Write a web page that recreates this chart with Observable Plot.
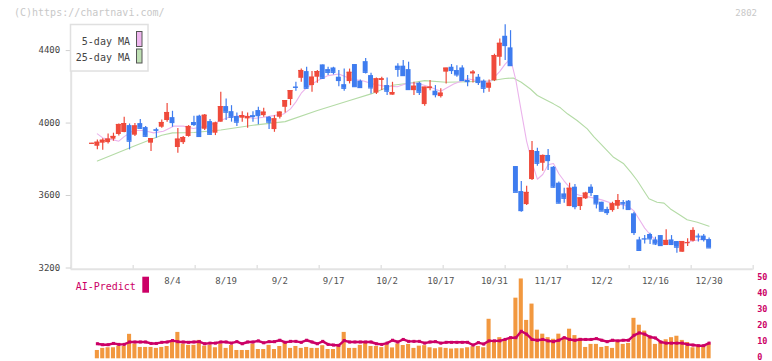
<!DOCTYPE html>
<html><head><meta charset="utf-8">
<script src="https://cdn.jsdelivr.net/npm/d3@7"></script>
<script src="https://cdn.jsdelivr.net/npm/@observablehq/plot@0.6"></script>
<style>
body{margin:0;background:#fff;}
#wrap{position:relative;width:772px;height:361px;overflow:hidden;font-family:"DejaVu Sans Mono",monospace;}
#wrap > svg{position:absolute;left:0;}
</style></head><body><div id="wrap"></div>
<script>
// ---- data ----
const open  = [3887,3872,3889,3892,3911,3937,3948,3986,3933,3997,3975,3889,3964,3977,4014,4030,3865,3892,3926,4003,4038,3966,4008,3944,4005,4091,4063,4036,4027,4023,4041,4069,4041,4032,3964,4032,4087,4130,4199,4247,4284,4207,4253,4321,4295,4304,4253,4212,4229,4323,4231,4339,4262,4165,4235,4207,4154,4314,4314,4295,4179,4220,4102,4190,4176,4146,4281,4308,4290,4304,4235,4271,4253,4231,4192,4234,4363,4479,4415,3760,3622,3550,3688,3843,3778,3821,3756,3668,3609,3539,3646,3539,3582,3646,3600,3563,3523,3517,3541,3561,3569,3499,3355,3362,3385,3355,3379,3324,3355,3346,3287,3338,3348,3376,3376,3357];
const high  = [3889,3907,3913,3940,3944,3995,4032,3995,3997,4019,3981,3914,3972,4017,4108,4065,3970,3926,3986,4038,4043,4047,4019,4005,4170,4133,4096,4056,4063,4056,4063,4087,4082,4036,4041,4063,4124,4179,4225,4299,4308,4284,4290,4321,4308,4308,4290,4299,4298,4323,4238,4356,4275,4249,4253,4249,4225,4327,4345,4336,4225,4225,4198,4235,4207,4189,4303,4323,4317,4317,4262,4290,4268,4238,4238,4380,4464,4543,4510,3760,3677,3651,3898,3861,3824,3854,3760,3674,3640,3668,3661,3587,3618,3659,3600,3563,3536,3563,3605,3572,3572,3508,3370,3379,3392,3370,3379,3411,3379,3346,3346,3361,3422,3388,3385,3366];
const low   = [3885,3852,3850,3885,3900,3929,3946,3852,3926,3966,3922,3843,3916,3972,4005,3977,3834,3881,3922,3981,3926,3959,3933,3931,4005,4014,4005,3981,4005,3971,4005,3990,4032,3964,3949,4023,4056,4096,4176,4225,4188,4170,4220,4240,4262,4266,4201,4176,4216,4201,4194,4271,4161,4157,4180,4152,4154,4253,4262,4185,4152,4152,4093,4179,4139,4139,4216,4268,4253,4231,4201,4221,4207,4165,4170,4229,4313,4345,4317,3618,3508,3545,3683,3762,3734,3738,3642,3554,3558,3539,3521,3517,3578,3594,3526,3514,3490,3508,3523,3521,3521,3379,3297,3333,3330,3324,3319,3324,3324,3282,3287,3319,3343,3343,3343,3311];
const close = [3888,3894,3905,3911,3926,3992,3997,3900,3984,3971,3927,3914,3960,4003,4058,4003,3911,3920,3981,3992,3926,4043,3938,4000,4091,4060,4032,4005,4041,4036,4036,4041,4060,4005,4023,4060,4124,4179,4197,4290,4192,4253,4284,4247,4280,4280,4235,4192,4280,4201,4196,4280,4194,4244,4244,4176,4168,4297,4262,4185,4203,4170,4198,4198,4157,4165,4303,4290,4266,4235,4229,4281,4224,4192,4220,4372,4440,4428,4317,3618,3517,3617,3848,3778,3821,3793,3646,3558,3585,3640,3539,3587,3613,3617,3554,3514,3506,3554,3572,3554,3523,3396,3297,3360,3361,3333,3324,3352,3330,3315,3346,3340,3407,3372,3357,3311];

const ma5Idx = [1,2,4,5,6,7.7,9.6,11.5,13.3,15.2,17,18.9,21.5,22.1,23.9,25.8,28.2,30.1,32,33.8,35.7,37,38,39,40,42,44,46,48.2,50.6,52.5,54.3,56.9,58.8,60.7,63.1,65,67.4,70,72.4,74.3,76,77,78,79,80,81,82,83,84,85,86,87,88,89,90,91,93,95,97,99,100,101,102,103,104,105,106,108,110,112,114,115];
const ma5Val = [3940,3918,3907,3900,3925,3959,3959,3946,3955,3983,3983,3970,3983,3986,4014,4035,4041,4025,4032,4041,4050,4078,4117,4165,4196,4234,4262,4271,4244,4232,4215,4205,4200,4220,4220,4198,4176,4216,4245,4230,4232,4285,4325,4355,4235,4064,3899,3783,3690,3716,3770,3777,3720,3680,3645,3610,3600,3590,3576,3556,3548,3538,3515,3468,3420,3385,3352,3338,3340,3335,3350,3360,3352];

const ma25Idx = [1,4,8,13,15,19,24,30,36,42,48,52,56,59,62,66,70,74,77,78.5,80,81.7,83,84.8,86,87.3,88.6,90.4,92.3,93.5,94.8,97.2,99.1,100.4,101.6,102.8,103.8,105.3,106.6,107.8,109.7,110.9,112.8,115];
const ma25Val = [3791,3826,3875,3933,3946,3948,3962,3988,4008,4069,4124,4161,4209,4220,4234,4225,4228,4232,4246,4249,4225,4188,4152,4124,4106,4084,4051,4014,3968,3925,3885,3811,3775,3729,3683,3628,3582,3563,3558,3526,3490,3466,3453,3431];

// lower panel, candle indices 1..115
const subBars = [5.2,6.5,6.9,6.9,7.9,7.7,15.3,9.2,7.1,7.1,7.1,6.5,7.1,7.7,10.3,16.5,9.2,8.4,8.4,11.5,7.9,8.4,6.9,9.2,6.5,8.4,5.2,5.2,5.2,9.2,5.8,5.8,8.4,5.8,7.7,10.6,6.5,7.7,6.5,7.1,6.5,6.5,8.2,5.8,5.8,7.7,16.5,6.5,6.5,8.4,9.8,7.7,7.7,7,8.7,6.8,9.3,8.3,9,6.5,7.9,8.2,6.9,6.3,6.9,6.5,6.1,6.3,6.3,6.9,7.5,7.7,6.9,24.7,10.4,13.2,10.9,12.4,37.9,49.9,24,34.2,17.9,15.4,13.2,12.2,15.4,12.4,18.5,14.5,12.8,7.1,9,9,7.1,7.7,6.5,10.4,9,9.6,25.3,21,17.3,14.1,9,10.7,11.9,13.2,14.1,11.5,10.2,6.9,7.7,7.7,9];
const subLine = [9.4,8.8,8.8,9.6,9.0,9.0,10.5,10.5,10.5,10.5,9.6,9.6,10.3,10.5,11.4,10.7,10.5,10.3,10.5,10.7,9.4,9.8,9.8,10.5,10.5,9.8,10.7,9.4,10.5,10.5,11.2,10.0,10.7,10.7,11.6,10.3,10.9,10.9,10.3,11.6,10.5,9.4,10.9,9.0,8.6,8.4,11.4,10.5,10.5,10.5,10.5,10.5,9.4,9.0,9.8,11.6,10.5,12.1,10.9,10.9,10.9,9.8,10.5,10.7,9.8,10.3,10.3,10.3,10.3,10.3,8.6,10.1,9.2,11.2,11.2,11.2,12.1,13.2,13.2,17.2,15.4,12.1,11.6,12.1,11.2,10.7,11.6,13.2,12.1,11.6,12.1,12.1,12.1,12.6,11.6,10.7,11.6,11.2,11.6,11.6,14.7,16.2,15.4,13.6,13.0,10.5,9.8,9.8,9.8,9.8,9.0,8.6,8.2,8.2,9.8];

const dateTicks  = [15,25,35,45,55,65,75,85,95,105,115];
const dateLabels = ["8/4","8/19","9/2","9/17","10/2","10/17","10/31","11/17","12/2","12/16","12/30"];
const priceTicks = [3200,3600,4000,4400];
const subTicks   = [0,10,20,30,40,50];

// ---- styling / layout ----
const UP = "#ef4a3b", DOWN = "#3e7cef";
const xDomain = [-3.876, 123.22];
const gridTicks = d3.range(12).map(k => xDomain[0] + k * (xDomain[1] - xDomain[0]) / 11);
const font = '"DejaVu Sans Mono", monospace';

const rows = close.map((c, i) => ({i, o: open[i], h: high[i], l: low[i], c, col: c >= open[i] ? UP : DOWN}));
const ma5 = ma5Idx.map((x, k) => ({x, y: ma5Val[k]}));
const ma25 = ma25Idx.map((x, k) => ({x, y: ma25Val[k]}));
const sub = subBars.map((v, k) => ({i: k + 1, v, p: subLine[k]}));

const topChart = Plot.plot({
  width: 772, height: 292,
  marginLeft: 70.7, marginRight: 19.3, marginTop: 24, marginBottom: 24.5,
  style: {fontFamily: font, fontSize: "9px", background: "transparent", overflow: "visible"},
  x: {domain: xDomain, axis: null},
  y: {domain: [3200, 4544], axis: null},
  marks: [
    Plot.ruleY([3200], {stroke: "#e3e3e3", strokeWidth: 2, dy: 1.2, x1: xDomain[0], x2: xDomain[1]}),
    Plot.ruleX(gridTicks, {y1: 3189, y2: 3214, stroke: "#e3e3e3", strokeWidth: 1.5}),
    Plot.ruleX([xDomain[0]], {y1: 3192, y2: 4544, stroke: "#e3e3e3", strokeWidth: 2}),
    Plot.axisY({ticks: priceTicks, tickFormat: d => String(d), tickSize: 5, tickPadding: 6, stroke: "#d0d0d0", fill: "#444", fontSize: 9}),
    Plot.axisX({ticks: dateTicks, tickFormat: d => dateLabels[dateTicks.indexOf(d)], tickSize: 0, tickPadding: 10, fill: "#555", fontSize: 9}),
    Plot.line(ma25, {x: "x", y: "y", stroke: "#b4dba6", strokeWidth: 1.1}),
    Plot.line(ma5, {x: "x", y: "y", stroke: "#ebb3ec", strokeWidth: 1.1}),
    Plot.ruleX(rows, {x: "i", y1: "l", y2: "h", stroke: "col", strokeWidth: 1.2}),
    Plot.rect(rows, {x1: d => d.i - 0.46, x2: d => d.i + 0.46, y1: "o", y2: "c", fill: "col"}),
    Plot.ruleY(rows, {y: "c", x1: d => d.i - 0.46, x2: d => d.i + 0.46, stroke: "col", strokeWidth: 1.2})
  ]
});
topChart.style.top = "0px";

const bottomChart = Plot.plot({
  width: 772, height: 91,
  marginLeft: 70.7, marginRight: 19.3, marginTop: 8.3, marginBottom: 2.7,
  style: {fontFamily: font, fontSize: "9px", background: "transparent", overflow: "visible"},
  x: {domain: xDomain, axis: null},
  y: {domain: [0, 50], axis: null},
  marks: [
    Plot.rect(sub, {x1: d => d.i - 0.38, x2: d => d.i + 0.38, y1: 0, y2: "v", fill: "#f2983f"}),
    Plot.line(sub, {x: "i", y: "p", stroke: "#cc0066", strokeWidth: 2.4}),
    Plot.dot(sub, {x: "i", y: "p", symbol: "square", r: 1.7, fill: "#cc0066"}),
    Plot.axisY({anchor: "right", ticks: subTicks, tickSize: 0, tickPadding: 4, dy: -1.5, fill: "#cc0066", fontSize: 8.5, fontWeight: "bold"})
  ]
});
bottomChart.style.top = "270px";

const wrap = document.getElementById("wrap");
wrap.appendChild(topChart);
wrap.appendChild(bottomChart);

// overlay texts / legends
const ns = "http://www.w3.org/2000/svg";
const ov = document.createElementNS(ns, "svg");
ov.setAttribute("width", 772); ov.setAttribute("height", 361);
ov.style.top = "0px";
ov.style.fontFamily = font;
function el(tag, attrs, text) {
  const e = document.createElementNS(ns, tag);
  for (const k in attrs) e.setAttribute(k, attrs[k]);
  if (text != null) e.textContent = text;
  ov.appendChild(e); return e;
}
el("text", {x: 14, y: 12.5, "dominant-baseline": "central", "font-size": 10, fill: "#c8c8c8"}, "(C)https://chartnavi.com/");
el("text", {x: 757, y: 12.5, "dominant-baseline": "central", "text-anchor": "end", "font-size": 9, fill: "#c8c8c8"}, "2802");
el("rect", {x: 70.5, y: 24.5, width: 77.5, height: 46.5, fill: "#fff", stroke: "#e0e0e0", "stroke-width": 1.5});
el("text", {x: 130, y: 41, "dominant-baseline": "central", "text-anchor": "end", "font-size": 10, fill: "#444"}, "5-day MA");
el("text", {x: 130, y: 57.3, "dominant-baseline": "central", "text-anchor": "end", "font-size": 10, fill: "#444"}, "25-day MA");
el("rect", {x: 136.5, y: 31.5, width: 5.5, height: 15, fill: "#efb6ef", stroke: "#555", "stroke-width": 1});
el("rect", {x: 136.5, y: 49, width: 5.5, height: 14, fill: "#bfe0b4", stroke: "#555", "stroke-width": 1});
el("text", {x: 75.7, y: 286, "dominant-baseline": "central", "font-size": 10, fill: "#cc0066"}, "AI-Predict");
el("rect", {x: 142.3, y: 276.7, width: 6.7, height: 16, fill: "#cc0066"});
wrap.appendChild(ov);
</script></body></html>
